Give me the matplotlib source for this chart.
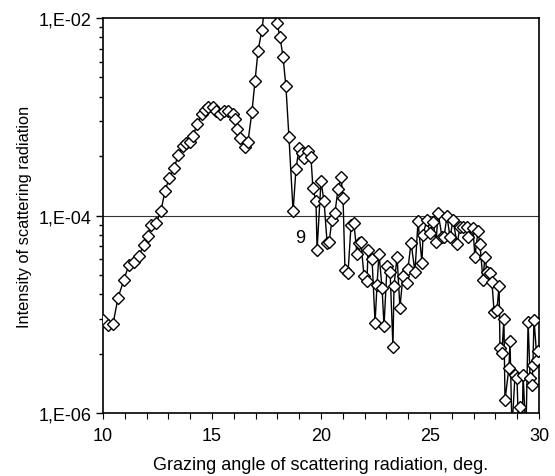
import matplotlib
matplotlib.use("Agg")
import matplotlib.pyplot as plt
from matplotlib.ticker import FixedLocator, MultipleLocator, NullFormatter

plt.rcParams['font.family'] = ['Liberation Sans', 'DejaVu Sans']

# Grazing angle (deg)
angle = [10.00, 10.23, 10.46, 10.69, 10.96, 11.19, 11.42, 11.65, 11.88, 12.06,
         12.20, 12.43, 12.66, 12.84, 13.03, 13.26, 13.44, 13.67, 13.81, 13.99,
         14.13, 14.31, 14.54, 14.68, 14.82, 15.05, 15.18, 15.37, 15.55, 15.73,
         15.96, 16.06, 16.15, 16.28, 16.51, 16.65, 16.83, 16.97, 17.11, 17.29,
         17.45, 17.65, 17.98, 18.12, 18.26, 18.39, 18.53, 18.72, 18.85, 18.99,
         19.13, 19.22, 19.40, 19.54, 19.63, 19.77, 19.82, 20.00, 20.14, 20.28,
         20.37, 20.50, 20.64, 20.78, 20.92, 21.01, 21.10, 21.24, 21.38, 21.51,
         21.65, 21.74, 21.83, 21.97, 22.11, 22.16, 22.34, 22.48, 22.57, 22.66,
         22.80, 22.89, 23.03, 23.17, 23.30, 23.35, 23.49, 23.62, 23.76, 23.94,
         23.99, 24.13, 24.31, 24.45, 24.63, 24.68, 24.86, 25.00, 25.14, 25.28,
         25.37, 25.55, 25.64, 25.78, 25.92, 26.06, 26.24, 26.38, 26.51, 26.70,
         26.74, 26.97, 27.06, 27.20, 27.29, 27.43, 27.52, 27.61, 27.75, 27.84,
         27.94, 28.07, 28.17, 28.21, 28.30, 28.39, 28.44, 28.62, 28.67, 28.76,
         28.90, 28.99, 29.08, 29.13, 29.22, 29.27, 29.40, 29.50, 29.59, 29.68,
         29.72, 29.77, 29.91, 29.95]

# Intensity of scattering radiation
intensity = [8.8e-6, 7.8e-6, 8.0e-6, 1.47e-5, 2.24e-5, 3.18e-5, 3.41e-5, 3.93e-5, 5.08e-5, 6.27e-5,
             8.1e-5, 8.3e-5, 1.12e-4, 1.75e-4, 2.38e-4, 3.0e-4, 4.06e-4, 5.02e-4, 5.38e-4, 5.51e-4,
             6.34e-4, 8.4e-4, 1.06e-3, 1.16e-3, 1.25e-3, 1.25e-3, 1.14e-3, 1.06e-3, 1.14e-3, 1.14e-3,
             1.06e-3, 9.4e-4, 7.6e-4, 6.05e-4, 4.9e-4, 5.6e-4, 1.11e-3, 2.29e-3, 4.62e-3, 7.6e-3,
             1.5e-2, 1.4e-2, 8.9e-3, 6.4e-3, 4.0e-3, 2.04e-3, 6.2e-4, 1.10e-4, 2.93e-4, 4.8e-4,
             4.26e-4, 3.79e-4, 4.47e-4, 3.88e-4, 1.88e-4, 1.39e-4, 4.5e-5, 2.21e-4, 1.39e-4, 5.3e-5,
             5.4e-5, 8.9e-5, 1.07e-4, 1.84e-4, 2.43e-4, 1.52e-4, 2.83e-5, 2.64e-5, 8.1e-5, 8.3e-5,
             4.1e-5, 5.3e-5, 5.4e-5, 2.46e-5, 2.19e-5, 4.5e-5, 3.66e-5, 8.2e-6, 1.99e-5, 4.1e-5,
             1.86e-5, 7.6e-6, 3.1e-5, 2.7e-5, 4.7e-6, 1.95e-5, 3.84e-5, 1.16e-5, 2.46e-5, 2.09e-5,
             2.9e-5, 5.3e-5, 2.7e-5, 8.7e-5, 3.33e-5, 6.4e-5, 9.1e-5, 6.7e-5, 8.5e-5, 5.4e-5,
             1.07e-4, 6.1e-5, 6.1e-5, 9.8e-5, 6.0e-5, 9.1e-5, 5.1e-5, 7.7e-5, 7.6e-5, 7.6e-5,
             6.0e-5, 7.4e-5, 3.84e-5, 6.9e-5, 5.1e-5, 2.24e-5, 3.84e-5, 2.7e-5, 2.64e-5, 2.14e-5,
             1.06e-5, 1.11e-5, 1.95e-5, 4.5e-6, 4.06e-6, 9.0e-6, 1.35e-6, 2.86e-6, 5.3e-6, 6.8e-7,
             2.43e-6, 2.27e-6, 5.0e-7, 1.15e-6, 5.0e-7, 2.43e-6, 6.0e-7, 8.4e-6, 2.27e-6, 1.92e-6,
             3.07e-6, 8.8e-6, 3.45e-6, 4.2e-6]

y_major = [1e-6, 1e-4, 1e-2]
y_major_labels = ['1,E-06', '1,E-04', '1,E-02']
x_major = [10, 15, 20, 25, 30]

fig = plt.figure(figsize=(5.55, 4.77), dpi=100)
ax = fig.add_axes([103/555, 1-414/477, 436/555, 395/477])

ax.plot(angle, intensity, color='black', lw=1.0, marker='D', ms=5.8,
        mfc='white', mec='black', mew=1.0, zorder=3)
ax.set_yscale('log')
ax.set_xlim(10, 30)
ax.set_ylim(1e-6, 1e-2)

ax.yaxis.set_major_locator(FixedLocator(y_major))
ax.set_yticklabels(y_major_labels)
minor = [n**2 * 10.0**e for e in (-6, -4) for n in range(2, 10)]
ax.yaxis.set_minor_locator(FixedLocator(minor))
ax.yaxis.set_minor_formatter(NullFormatter())

ax.xaxis.set_major_locator(FixedLocator(x_major))
ax.xaxis.set_minor_locator(MultipleLocator(1))

ax.tick_params(axis='both', which='both', direction='out', labelsize=13, color='black')
ax.tick_params(axis='y', which='major', length=5, width=1, pad=3)
ax.tick_params(axis='y', which='minor', length=3, width=1)
ax.tick_params(axis='x', which='both', length=4, width=0.8)
ax.tick_params(axis='x', which='major', pad=6)

ax.axhline(1e-4, color='#333333', lw=0.8, zorder=1)

for s in ax.spines.values():
    s.set_linewidth(1.2)
    s.set_color('black')

ax.text(19.04, 6e-5, '9', fontsize=13, ha='center', va='center')

ax.set_xlabel('Grazing angle of scattering radiation, deg.', fontsize=13, labelpad=9)
ax.set_ylabel('Intensity of scattering radiation', fontsize=11.8, labelpad=5)

fig.savefig('out.png', dpi=100)
